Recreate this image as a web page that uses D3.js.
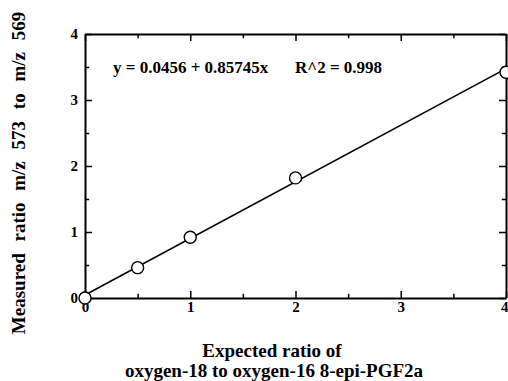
<!DOCTYPE html>
<html>
<head>
<meta charset="utf-8">
<script src="https://cdn.jsdelivr.net/npm/d3@7"></script>
<style>
	body { margin: 0; background: #fff; }
	text { font-family: "Liberation Serif", "Times New Roman", serif; font-weight: bold; fill: #000; }
</style>
</head>
<body>
<div id="chart"></div>
<script>

var expected = [0, 0.5, 1, 2, 4]
var measured = [0, 0.46, 0.92, 1.82, 3.42]
var x_ticks = [0, 1, 2, 3, 4]
var y_ticks = [0, 1, 2, 3, 4]
var minor_ticks = [0.5, 1.5, 2.5, 3.5]
var fit = {intercept: 0.0456, slope: 0.85745}
var fit_label = 'y = 0.0456 + 0.85745x'
var r2_label = 'R^2 = 0.998'

var width = 508,
	height = 381,
	m_left = 85,
	m_right = 506,
	m_top = 34,
	m_bottom = 298

var svg = d3.select('#chart')
	.append('svg')
	.attr('width', width)
	.attr('height', height)

var x = d3.scaleLinear()
	.domain([0, 4])
	.range([m_left, m_right])

var y = d3.scaleLinear()
	.domain([0, 4])
	.range([m_bottom, m_top])

// frame with inward ticks, minor ticks shorter
draw_axis = (axis, transform, ticks, labels) => {
	var g = svg.append('g')
		.attr('transform', transform)
		.call(axis.tickValues(ticks.concat(minor_ticks))
			.tickSize(-7)
			.tickSizeOuter(0)
			.tickFormat(d => labels && Number.isInteger(d) ? d : ''))
	g.select('.domain').attr('stroke-width', 2).attr('stroke', '#000')
	g.selectAll('.tick line')
		.attr('stroke', '#000')
		.attr('stroke-width', 1.5)
		.each(function (d) {
			var l = d3.select(this)
			if (!Number.isInteger(d)) {
				if (+l.attr('y2')) l.attr('y2', +l.attr('y2') * 0.6)
				if (+l.attr('x2')) l.attr('x2', +l.attr('x2') * 0.6)
			}
		})
	g.selectAll('.tick text')
		.style('font-size', '15px')
		.style('font-family', '"Liberation Serif", serif')
		.style('font-weight', 'bold')
	return g
}

var bottom_axis = draw_axis(d3.axisBottom(x), 'translate(0,' + m_bottom + ')', x_ticks, true)
bottom_axis.selectAll('.tick text')
	.attr('y', 3)
	.filter(d => d === 4)
		.attr('text-anchor', 'end')
		.attr('x', 2)

var left_axis = draw_axis(d3.axisLeft(y), 'translate(' + m_left + ',0)', y_ticks, true)
left_axis.selectAll('.tick text').attr('x', -7)

draw_axis(d3.axisTop(x), 'translate(0,' + m_top + ')', x_ticks, false)
draw_axis(d3.axisRight(y), 'translate(' + m_right + ',0)', y_ticks, false)

// fitted line
svg.append('line')
	.attr('x1', x(0))
	.attr('y1', y(fit.intercept))
	.attr('x2', x(4))
	.attr('y2', y(fit.intercept + fit.slope * 4))
	.attr('stroke', '#000')
	.attr('stroke-width', 1.6)

svg.append('g')
	.selectAll('circle')
	.data(expected)
	.join('circle')
		.attr('cx', d => x(d))
		.attr('cy', (d, i) => y(measured[i]))
		.attr('r', 6)
		.attr('fill', '#fff')
		.attr('stroke', '#000')
		.attr('stroke-width', 1.4)

svg.append('text')
	.attr('x', 113)
	.attr('y', 73)
	.style('font-size', '17px')
	.text(fit_label)

svg.append('text')
	.attr('x', 295)
	.attr('y', 73)
	.style('font-size', '17px')
	.text(r2_label)

svg.append('text')
	.attr('transform', 'translate(25,173) rotate(-90)')
	.attr('text-anchor', 'middle')
	.style('font-size', '19px')
	.style('word-spacing', '7px')
	.text('Measured ratio m/z 573 to m/z 569')

svg.append('text')
	.attr('x', 272)
	.attr('y', 357)
	.attr('text-anchor', 'middle')
	.style('font-size', '19px')
	.text('Expected ratio of')

svg.append('text')
	.attr('x', 274)
	.attr('y', 377)
	.attr('text-anchor', 'middle')
	.style('font-size', '19px')
	.text('oxygen-18 to oxygen-16 8-epi-PGF2a')

</script>
</body>
</html>
